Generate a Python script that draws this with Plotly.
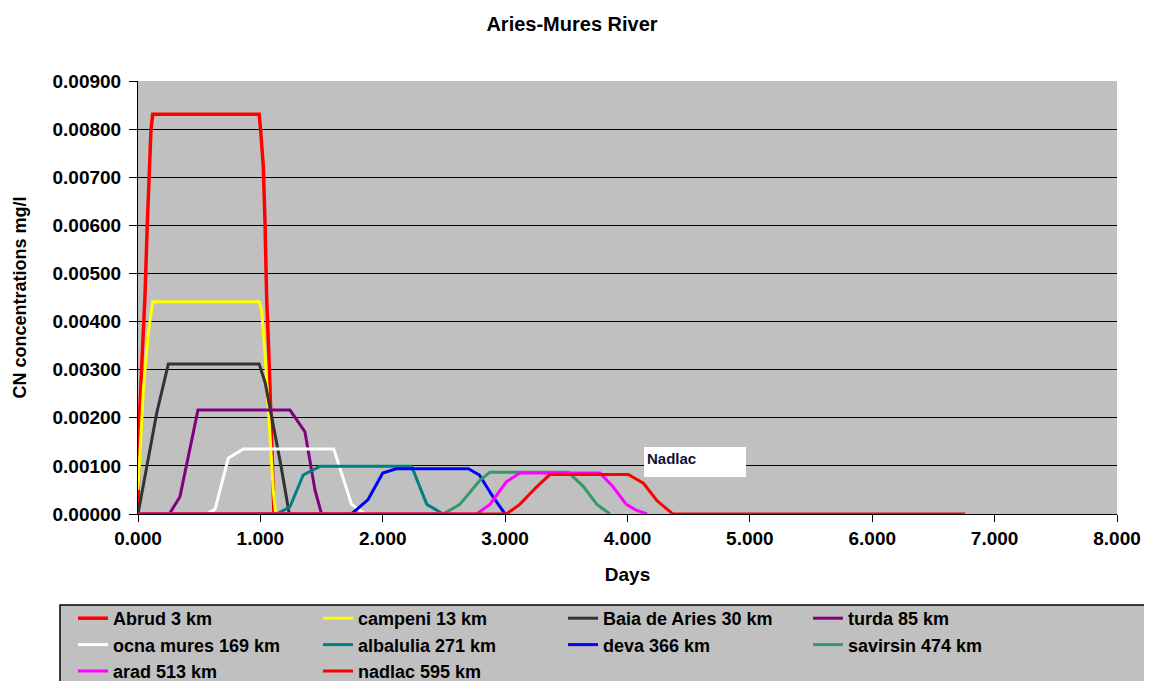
import plotly.graph_objects as go

# ---- data (days, mg/l) ----
abrud_t = [0.0, 0.008, 0.030, 0.057, 0.076, 0.090, 0.106, 0.120, 0.990, 1.002, 1.024, 1.038, 1.051, 1.073, 1.092, 1.111]
abrud_v = [0.0, 0.00171, 0.00306, 0.00452, 0.00604, 0.00722, 0.00798, 0.00831, 0.00831, 0.00798, 0.00722, 0.00604, 0.00452, 0.00306, 0.00171, 0.0]

campeni_t = [0.0, 0.044, 0.084, 0.120, 0.990, 1.010, 1.040, 1.070, 1.105, 1.125]
campeni_v = [0.0005, 0.00258, 0.00376, 0.00441, 0.00441, 0.00424, 0.00327, 0.00189, 0.0005, 0.0]

baia_t = [0.0, 0.071, 0.153, 0.248, 0.990, 1.040, 1.105, 1.170, 1.236]
baia_v = [0.0, 0.00098, 0.00210, 0.00312, 0.00312, 0.00272, 0.00189, 0.00098, 0.0]

turda_t = [0.0, 0.256, 0.343, 0.440, 0.490, 1.242, 1.364, 1.390, 1.446, 1.500]
turda_v = [0.0, 0.0, 0.00036, 0.00154, 0.00216, 0.00216, 0.00171, 0.00133, 0.0005, 0.0]

ocna_t = [0.0, 0.560, 0.630, 0.738, 0.860, 1.600, 1.745, 1.855]
ocna_v = [0.0, 0.0, 0.0001, 0.00116, 0.00135, 0.00135, 0.0002, 0.0]

alba_t = [0.0, 1.133, 1.242, 1.350, 1.487, 2.236, 2.360, 2.494]
alba_v = [0.0, 0.0, 0.00015, 0.00081, 0.00099, 0.00099, 0.0002, 0.0]

deva_t = [0.0, 1.745, 1.880, 2.000, 2.110, 2.700, 2.790, 2.900, 3.000]
deva_v = [0.0, 0.0, 0.0003, 0.00085, 0.00094, 0.00094, 0.00081, 0.00036, 0.0]

savirsin_t = [0.0, 2.494, 2.630, 2.794, 2.876, 3.516, 3.640, 3.750, 3.856]
savirsin_v = [0.0, 0.0, 0.0002, 0.0007, 0.00087, 0.00087, 0.00057, 0.0002, 0.0]

arad_t = [0.0, 2.767, 2.876, 3.010, 3.120, 3.775, 3.880, 3.990, 4.070, 4.160]
arad_v = [0.0, 0.0, 0.0002, 0.00067, 0.00085, 0.00085, 0.00057, 0.0002, 0.00008, 0.0]

nadlac_t = [0.0, 3.010, 3.120, 3.260, 3.366, 4.006, 4.130, 4.240, 4.370, 6.760]
nadlac_v = [0.0, 0.0, 0.0002, 0.00057, 0.00082, 0.00082, 0.00064, 0.00028, 0.0, 0.0]

series = [
    ("Abrud 3 km", abrud_t, abrud_v, "#FF0000", 3.5),
    ("campeni 13 km", campeni_t, campeni_v, "#FFFF00", 3),
    ("Baia de Aries 30 km", baia_t, baia_v, "#333333", 3),
    ("turda 85 km", turda_t, turda_v, "#800080", 3),
    ("ocna mures 169 km", ocna_t, ocna_v, "#FFFFFF", 3),
    ("albalulia 271 km", alba_t, alba_v, "#008080", 3),
    ("deva 366 km", deva_t, deva_v, "#0000FF", 3),
    ("savirsin 474 km", savirsin_t, savirsin_v, "#339966", 3),
    ("arad 513 km", arad_t, arad_v, "#FF00FF", 3),
    ("nadlac 595 km", nadlac_t, nadlac_v, "#FF0000", 3),
]

x_ticks = [0, 1, 2, 3, 4, 5, 6, 7, 8]
y_ticks = [0, 0.001, 0.002, 0.003, 0.004, 0.005, 0.006, 0.007, 0.008, 0.009]

FONT = "Liberation Sans, Arial, sans-serif"

fig = go.Figure()
for name, t, v, col, w in series:
    fig.add_trace(go.Scatter(x=t, y=v, mode="lines", name=name,
                             line=dict(color=col, width=w), cliponaxis=False))

OFF = 8  # page body margin
W, H = 1144, 673
L, R, T, B = 130, 35, 73, 167
pw, ph = W - L - R, H - T - B
X0, Y0 = OFF + L, OFF + H - B  # page pixel of plot origin


def px(xp):
    return (xp - X0) / pw


def py(yp):
    return (Y0 - yp) / ph


fig.update_layout(
    width=W, height=H,
    margin=dict(l=L, r=R, t=T, b=B, autoexpand=False),
    paper_bgcolor="white",
    plot_bgcolor="#C0C0C0",
    font=dict(family=FONT, size=19, color="black"),
    title=dict(text="<b>Aries-Mures River</b>", x=(572 - OFF) / W, xref="container", xanchor="center",
               y=1 - (24 - OFF) / H, yref="container", yanchor="middle",
               font=dict(size=20, family=FONT, color="black")),
    showlegend=True,
    legend=dict(orientation="h", x=px(73), xanchor="left", y=py(600), yanchor="top",
                bgcolor="rgba(0,0,0,0)", borderwidth=0,
                entrywidth=200, entrywidthmode="pixels", tracegroupgap=0,
                font=dict(size=18, family=FONT, color="black", weight="bold"),
                itemwidth=30),
    xaxis=dict(range=[0, 8], tickvals=x_ticks, tickformat=".3f",
               showgrid=False, zeroline=False,
               showline=True, linecolor="black", linewidth=1, mirror=False,
               ticks="outside", ticklen=7, tickcolor="black", tickwidth=1,
               tickfont=dict(size=19, family=FONT, color="black", weight="bold"),
               title=dict(text="<b>Days</b>", standoff=19,
                          font=dict(size=19, family=FONT, color="black"))),
    yaxis=dict(range=[0, 0.009], tickvals=y_ticks, tickformat=".5f",
               showgrid=True, gridcolor="black", gridwidth=1, zeroline=False,
               showline=True, linecolor="black", linewidth=1,
               ticks="outside", ticklen=8, tickcolor="black", tickwidth=1,
               ticklabelstandoff=4,
               tickfont=dict(size=19, family=FONT, color="black", weight="bold"),
               title=dict(text="<b>CN concentrations mg/l</b>", standoff=21,
                          font=dict(size=18, family=FONT, color="black"))),
)

# legend background box
fig.add_shape(type="rect", xref="paper", yref="paper",
              x0=px(60), x1=px(1170), y0=py(605), y1=py(700),
              fillcolor="#C0C0C0", line=dict(color="black", width=1.5), layer="below")

# Nadlac label box
fig.add_shape(type="rect", xref="paper", yref="paper",
              x0=px(644), x1=px(746), y0=py(447), y1=py(477),
              fillcolor="white", line=dict(width=0), layer="above")
fig.add_annotation(text="<b>Nadlac</b>", xref="paper", yref="paper",
                   x=px(645), y=py(448), xanchor="left", yanchor="top", showarrow=False,
                   font=dict(size=15, family=FONT, color="#111133"))

fig.write_html("out.html")
